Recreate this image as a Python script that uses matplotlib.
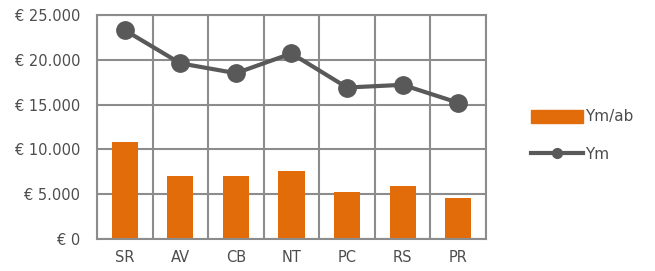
import numpy as np
import matplotlib
matplotlib.use('Agg')
import matplotlib.pyplot as plt
from matplotlib.patches import Patch
from matplotlib.lines import Line2D

# data
categories = ['SR', 'AV', 'CB', 'NT', 'PC', 'RS', 'PR']
ym_ab = [10800, 7000, 7000, 7600, 5200, 5900, 4600]
ym = [23300, 19600, 18500, 20700, 16900, 17200, 15200]
yticks = [0, 5000, 10000, 15000, 20000, 25000]
ytick_labels = ['€ 0', '€ 5.000', '€ 10.000', '€ 15.000', '€ 20.000', '€ 25.000']

orange = '#E36C0A'
dark = '#595959'
gridc = '#8C8C8C'
textc = '#4D4D4D'

fig = plt.figure(figsize=(6.55, 2.71), dpi=100)
ax = fig.add_axes([0.148, 0.118, 0.594, 0.827])

x = np.arange(len(categories))
ax.bar(x, ym_ab, width=0.47, color=orange, zorder=2)
ax.plot(x, ym, color=dark, linewidth=3, marker='o', markersize=12.5, zorder=3)

ax.set_xlim(-0.5, len(categories) - 0.5)
ax.set_ylim(0, 25000)
ax.set_yticks(yticks)
ax.set_yticklabels(ytick_labels)
ax.set_xticks(x)
ax.set_xticklabels(categories)
ax.set_xticks(np.arange(-0.5, len(categories), 1), minor=True)

# grid between categories and at each y tick
ax.grid(True, axis='y', which='major', color=gridc, linewidth=1.5, zorder=0)
ax.grid(True, axis='x', which='minor', color=gridc, linewidth=1.5, zorder=0)
ax.set_axisbelow(True)
ax.tick_params(which='both', length=0, colors=textc, labelsize=10.5)
ax.tick_params(axis='x', pad=8)
ax.tick_params(axis='y', pad=12)
for s in ax.spines.values():
    s.set_color(gridc)
    s.set_linewidth(1.5)

handles = [Patch(facecolor=orange, edgecolor=orange),
           Line2D([0], [0], color=dark, linewidth=3, marker='o', markersize=7)]
fig.legend(handles, ['Ym/ab', 'Ym'], loc='center left',
           bbox_to_anchor=(0.79, 0.5), frameon=False, fontsize=11,
           handlelength=3.4, handleheight=0.95, handletextpad=0.15,
           labelspacing=1.45, labelcolor=textc)

plt.savefig('out.png', dpi=100)
